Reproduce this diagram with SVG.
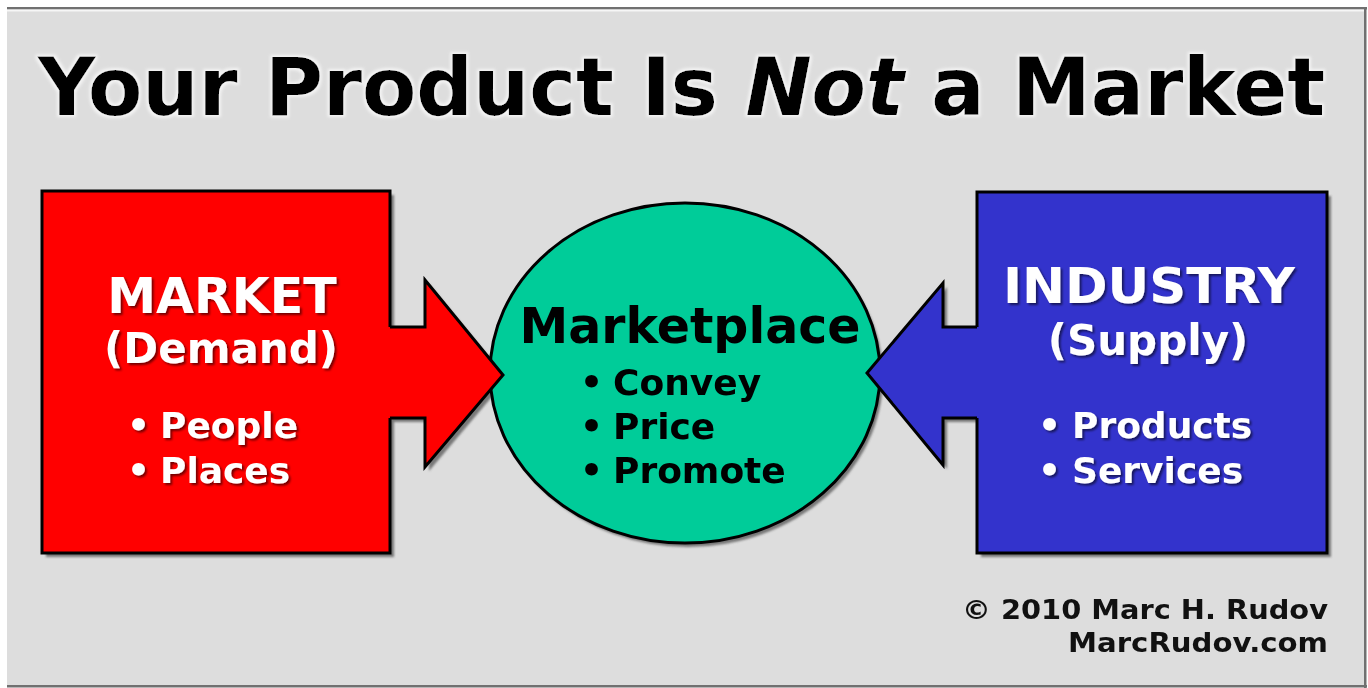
<svg xmlns="http://www.w3.org/2000/svg" width="1368" height="688" viewBox="0 0 1368 688">
  <defs>
    <style>
      .t { font-family: "DejaVu Sans", Verdana, sans-serif; font-weight: bold; }
      .title { font-size: 80px; fill: #000; }
      .head { font-size: 49px; fill: #fff; }
      .sub { font-size: 42px; fill: #fff; }
      .item { font-size: 36px; fill: #fff; }
      .dark { fill: #000; }
      .copy { font-size: 26px; fill: #111; }
      .edge { stroke: #000; stroke-width: 3; stroke-linejoin: miter; }
      .shade { fill: #555; opacity: 0.75; }
    </style>
    <filter id="soft" x="-5%" y="-5%" width="110%" height="110%">
      <feGaussianBlur stdDeviation="1.2"/>
    </filter>
    <filter id="txtShadow" x="-5%" y="-10%" width="110%" height="130%">
      <feDropShadow dx="2" dy="2" stdDeviation="0.8" flood-color="#000" flood-opacity="0.55"/>
    </filter>
    <filter id="halo" x="-5%" y="-10%" width="110%" height="130%">
      <feMorphology in="SourceAlpha" operator="dilate" radius="2" result="d"/>
      <feGaussianBlur in="d" stdDeviation="1.5" result="b"/>
      <feFlood flood-color="#f4f4f4"/>
      <feComposite in2="b" operator="in" result="h"/>
      <feMerge><feMergeNode in="h"/><feMergeNode in="SourceGraphic"/></feMerge>
    </filter>
  </defs>

  <!-- panel -->
  <rect x="0" y="0" width="1368" height="688" fill="#ffffff"/>
  <rect x="7" y="8" width="1359" height="679" fill="#dddddd"/>
  <rect x="7" y="7" width="1360" height="2.5" fill="#707070"/>
  <rect x="7" y="9.5" width="1357" height="2" fill="#f6f6f6"/>
  <rect x="1364" y="7" width="2.5" height="681" fill="#707070"/>
  <rect x="7" y="685" width="1360" height="2.5" fill="#707070"/>

  <!-- title -->
  <g id="title" filter="url(#halo)">
    <text class="t title" x="38" y="115" textLength="1287" lengthAdjust="spacingAndGlyphs">Your Product Is <tspan font-style="italic">Not</tspan> a Market</text>
  </g>

  <!-- drop shadows under the shapes -->
  <g id="shadows" filter="url(#soft)">
    <path class="shade" d="M46,195 H394 V331 H429 V284 L507,379 L429,471 V422 H394 V557 H46 Z"/>
    <path class="shade" d="M981,196 H1331 V557 H981 V422 H947 V469 L871,377 L947,287 V331 H981 Z"/>
    <ellipse class="shade" cx="688" cy="377" rx="195" ry="170"/>
  </g>

  <!-- Marketplace -->
  <g id="marketplace">
    <ellipse cx="685" cy="373" rx="195" ry="170" fill="#00cc99" class="edge"/>
    <text class="t head dark" x="690" y="343" text-anchor="middle">Marketplace</text>
    <g class="t item dark">
      <text x="580" y="395">•</text><text x="613" y="395">Convey</text>
      <text x="580" y="439">•</text><text x="613" y="439">Price</text>
      <text x="580" y="483">•</text><text x="613" y="483">Promote</text>
    </g>
  </g>

  <!-- Market -->
  <g id="market">
    <rect x="42" y="191" width="348" height="362" fill="#ff0000" class="edge"/>
    <g filter="url(#txtShadow)">
      <text class="t head" x="222" y="313" text-anchor="middle">MARKET</text>
      <text class="t sub" x="221" y="363" text-anchor="middle">(Demand)</text>
      <g class="t item">
        <text x="127" y="438">•</text><text x="160" y="438">People</text>
        <text x="127" y="483">•</text><text x="160" y="483">Places</text>
      </g>
    </g>
  </g>

  <!-- Industry -->
  <g id="industry">
    <rect x="977" y="192" width="350" height="361" fill="#3333cc" class="edge"/>
    <g filter="url(#txtShadow)">
      <text class="t head" x="1003" y="303" textLength="292" lengthAdjust="spacingAndGlyphs">INDUSTRY</text>
      <text class="t sub" x="1148" y="355" text-anchor="middle">(Supply)</text>
      <g class="t item">
        <text x="1038" y="438">•</text><text x="1072" y="438">Products</text>
        <text x="1038" y="483">•</text><text x="1072" y="483">Services</text>
      </g>
    </g>
  </g>

  <!-- connectors: block arrows into the marketplace -->
  <g id="connectors">
    <polygon points="388,327 425,327 425,280 503,375 425,467 425,418 388,418" fill="#ff0000"/>
    <polyline points="390,327 425,327 425,280 503,375 425,467 425,418 390,418" fill="none" class="edge"/>
    <polygon points="979,327 943,327 943,283 867,373 943,465 943,418 979,418" fill="#3333cc"/>
    <polyline points="977,327 943,327 943,283 867,373 943,465 943,418 977,418" fill="none" class="edge"/>
  </g>

  <!-- credit -->
  <g id="credit" class="t copy">
    <text x="962" y="619" textLength="366" lengthAdjust="spacingAndGlyphs">© 2010 Marc H. Rudov</text>
    <text x="1068" y="652" textLength="260" lengthAdjust="spacingAndGlyphs">MarcRudov.com</text>
  </g>
</svg>
